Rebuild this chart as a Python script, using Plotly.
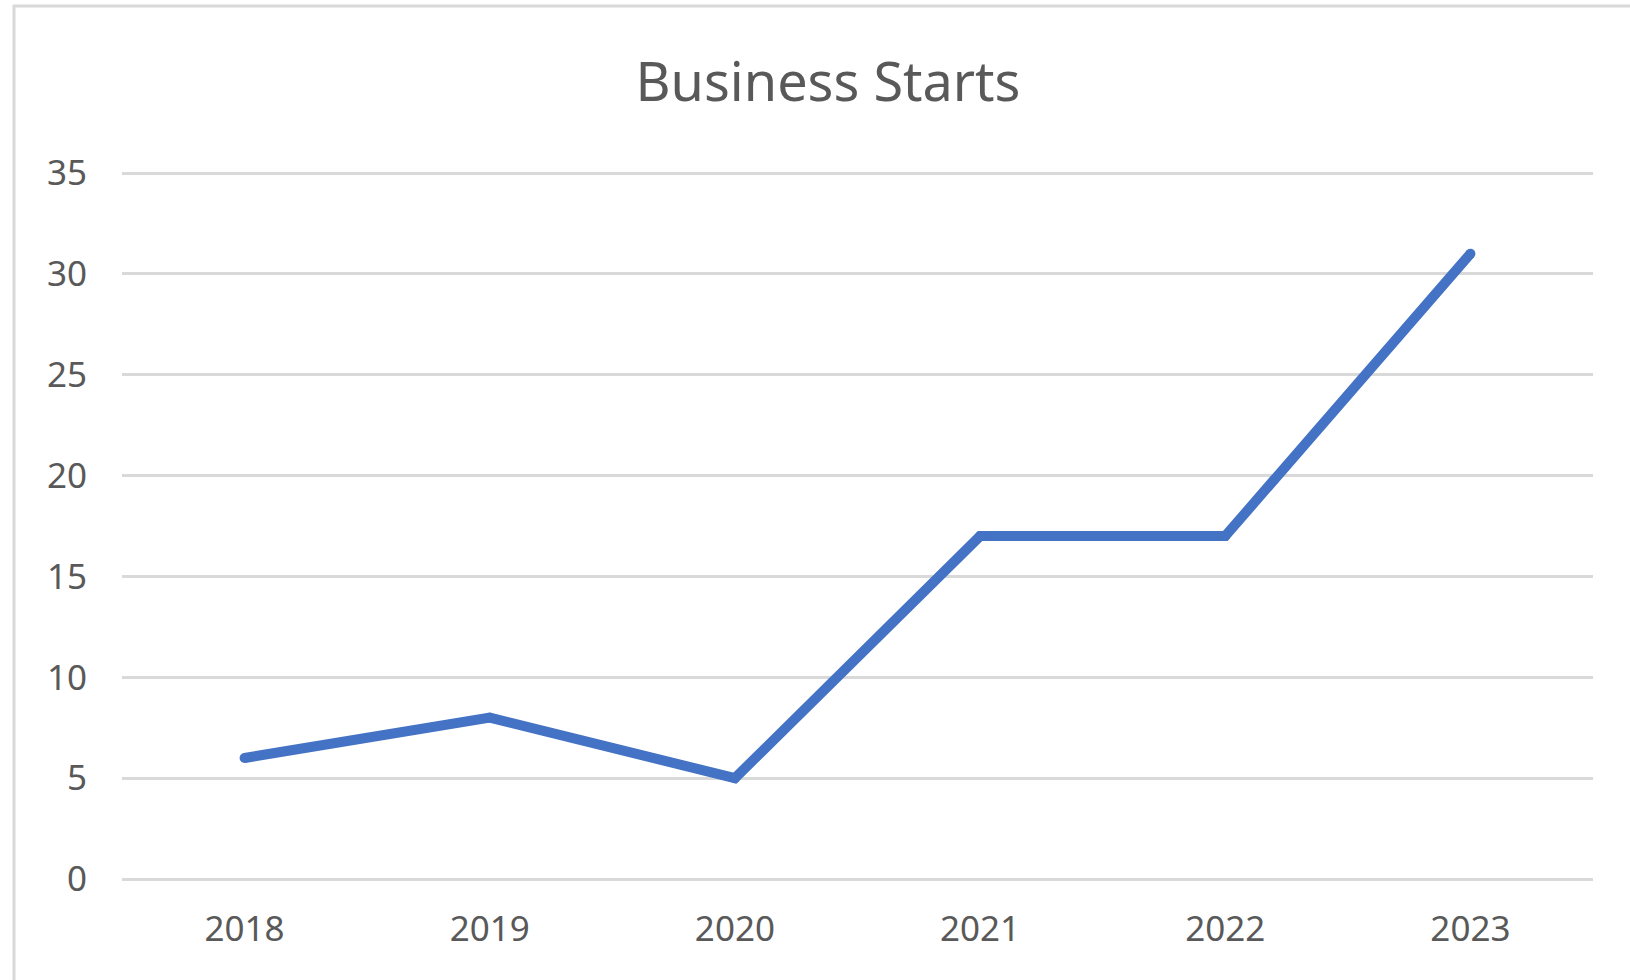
import plotly.graph_objects as go

# Business starts per year
years = ["2018", "2019", "2020", "2021", "2022", "2023"]
starts = [6, 8, 5, 17, 17, 31]
y_ticks = [0, 5, 10, 15, 20, 25, 30, 35]

W, H = 1630, 980
L, R, T, B = 122, 37, 172, 101

fig = go.Figure()
fig.add_trace(go.Scatter(
    x=years, y=starts, mode="lines+markers",
    line=dict(color="#4472C4", width=10, shape="linear"),
    marker=dict(color="#4472C4", size=10, line=dict(width=0)),
    hoverinfo="x+y",
))

plot_h = H - T - B
plot_w = W - L - R

# chart-area frame (left and top edges visible)
fig.add_shape(
    type="rect", xref="paper", yref="paper",
    x0=(14 - L) / plot_w, x1=1.2,
    y0=-0.4, y1=(H - B - 6) / plot_h,
    line=dict(color="#d9d9d9", width=3), fillcolor="rgba(0,0,0,0)",
    layer="below",
)

fig.update_layout(
    width=W, height=H,
    margin=dict(l=L, r=R, t=T, b=B, pad=0),
    paper_bgcolor="white", plot_bgcolor="white",
    showlegend=False,
    font=dict(family="Noto Sans, Open Sans, sans-serif", color="#595959"),
    title=dict(
        text="Business Starts",
        font=dict(size=54, color="#595959", family="Noto Sans, Open Sans, sans-serif"),
        x=828 / W, xanchor="center", xref="container",
        y=1 - 82 / H, yanchor="middle", yref="container",
    ),
    xaxis=dict(
        type="category", range=[-0.5, 5.5],
        showgrid=False, zeroline=False, showline=False,
        ticks="", tickfont=dict(size=35, color="#595959"),
        ticklabelstandoff=26, fixedrange=True,
    ),
    yaxis=dict(
        range=[0, 35.05], tickvals=y_ticks, showgrid=True,
        gridcolor="#d9d9d9", gridwidth=3,
        zeroline=True, zerolinecolor="#d9d9d9", zerolinewidth=3,
        showline=False, ticks="", tickfont=dict(size=35, color="#595959"),
        ticklabelstandoff=34, fixedrange=True,
    ),
)

fig.write_html("out.html")
